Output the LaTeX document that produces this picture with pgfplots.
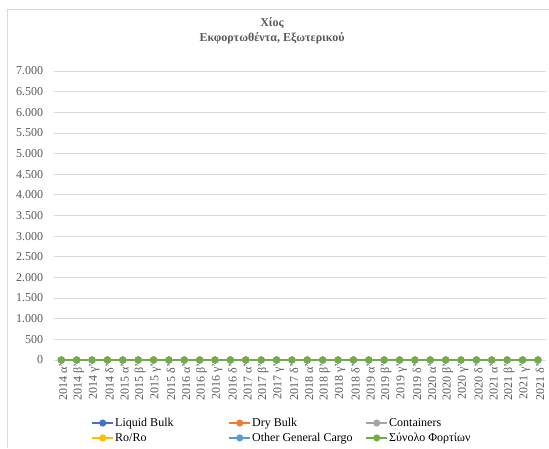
\documentclass[border=0pt]{standalone}
\usepackage{fontspec}
\setmainfont{Liberation Serif}
\usepackage{pgfplots}
\usepackage{pgfplotstable}
\pgfplotsset{compat=1.18}

\definecolor{cLiquid}{HTML}{4472C4}
\definecolor{cDry}{HTML}{ED7D31}
\definecolor{cCont}{HTML}{A5A5A5}
\definecolor{cRoro}{HTML}{FFC000}
\definecolor{cOther}{HTML}{5B9BD5}
\definecolor{cTotal}{HTML}{70AD47}
\definecolor{cGrid}{HTML}{D9D9D9}
\definecolor{cText}{HTML}{595959}

% quarters 2014 a' .. 2021 d' (x = 0..31), all exports zero
\pgfplotstableread{
x lb db ct ro ogc tot
0 0 0 0 0 0 0
1 0 0 0 0 0 0
2 0 0 0 0 0 0
3 0 0 0 0 0 0
4 0 0 0 0 0 0
5 0 0 0 0 0 0
6 0 0 0 0 0 0
7 0 0 0 0 0 0
8 0 0 0 0 0 0
9 0 0 0 0 0 0
10 0 0 0 0 0 0
11 0 0 0 0 0 0
12 0 0 0 0 0 0
13 0 0 0 0 0 0
14 0 0 0 0 0 0
15 0 0 0 0 0 0
16 0 0 0 0 0 0
17 0 0 0 0 0 0
18 0 0 0 0 0 0
19 0 0 0 0 0 0
20 0 0 0 0 0 0
21 0 0 0 0 0 0
22 0 0 0 0 0 0
23 0 0 0 0 0 0
24 0 0 0 0 0 0
25 0 0 0 0 0 0
26 0 0 0 0 0 0
27 0 0 0 0 0 0
28 0 0 0 0 0 0
29 0 0 0 0 0 0
30 0 0 0 0 0 0
31 0 0 0 0 0 0
}\datatable

\begin{document}
\begin{tikzpicture}
\useasboundingbox (0pt,0pt) rectangle (549pt,-448pt);
% chart frame
\draw[cGrid, line width=0.8pt] (7pt,-448pt) -- (7pt,-9pt) -- (549pt,-9pt);
\node[font=\bfseries\fontsize{12}{15}\selectfont, text=cText, align=center]
  at (272pt,-31pt) {Χίος\\Εκφορτωθέντα, Εξωτερικού};

\begin{axis}[
    at={(53.6pt,-360pt)}, anchor=south west,
    scale only axis,
    width=492pt, height=289pt,
    xmin=-0.5, xmax=31.5,
    ymin=0, ymax=7000,
    ytick={0,500,...,7000},
    xtick={0,...,31},
    xticklabels={2014 α',2014 β',2014 γ',2014 δ',2015 α',2015 β',2015 γ',2015 δ',
                 2016 α',2016 β',2016 γ',2016 δ',2017 α',2017 β',2017 γ',2017 δ',
                 2018 α',2018 β',2018 γ',2018 δ',2019 α',2019 β',2019 γ',2019 δ',
                 2020 α',2020 β',2020 γ',2020 δ',2021 α',2021 β',2021 γ',2021 δ'},
    xticklabel style={rotate=90, anchor=east, font=\fontsize{12}{14}\selectfont, text=cText, yshift=-2pt},
    yticklabel style={font=\fontsize{12}{14}\selectfont, text=cText, xshift=-7pt},
    /pgf/number format/.cd, fixed, 1000 sep={.}, assume math mode=true,
    /pgfplots/.cd,
    ymajorgrids,
    grid style={cGrid, line width=0.8pt},
    axis line style={draw=none},
    major tick length=0pt,
    every axis plot/.append style={line width=2pt, mark=*, mark size=2.5pt},
    legend image code/.code={\draw[mark repeat=2, mark phase=2, #1]
        plot coordinates {(0pt,0pt) (10.5pt,0pt) (21pt,0pt)};},
    legend columns=3,
    legend cell align=left,
    legend style={at={(axis description cs:0.07,-0.19)}, anchor=north west,
        draw=none, fill=none, font=\fontsize{12}{14}\selectfont, text=black,
        nodes={inner xsep=1pt, inner ysep=1pt}, row sep=3pt},
]
\addplot[cLiquid, mark options={fill=cLiquid}] table[x=x, y=lb] {\datatable};
\addlegendentry{\makebox[112pt][l]{Liquid Bulk}}
\addplot[cDry, mark options={fill=cDry}] table[x=x, y=db] {\datatable};
\addlegendentry{\makebox[112pt][l]{Dry Bulk}}
\addplot[cCont, mark options={fill=cCont}] table[x=x, y=ct] {\datatable};
\addlegendentry{Containers}
\addplot[cRoro, mark options={fill=cRoro}] table[x=x, y=ro] {\datatable};
\addlegendentry{\makebox[112pt][l]{Ro/Ro}}
\addplot[cOther, mark options={fill=cOther}] table[x=x, y=ogc] {\datatable};
\addlegendentry{\makebox[112pt][l]{Other General Cargo}}
\addplot[cTotal, mark options={fill=cTotal}] table[x=x, y=tot] {\datatable};
\addlegendentry{Σύνολο Φορτίων}
\end{axis}
\end{tikzpicture}
\end{document}
